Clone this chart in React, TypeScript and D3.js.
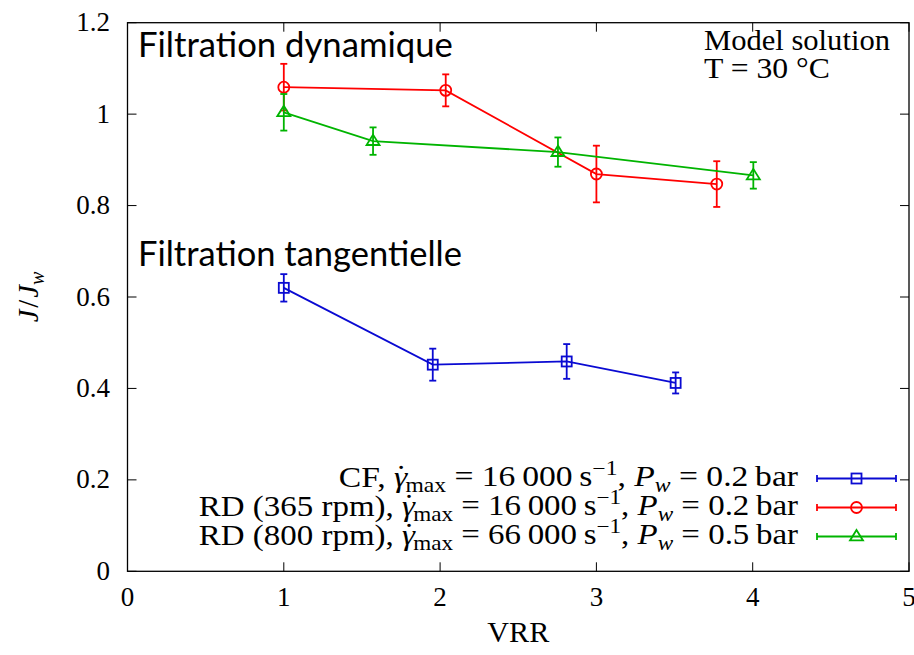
import React, { useLayoutEffect, useRef, useState } from "react";
import * as d3 from "d3";

const xTicks = [0, 1, 2, 3, 4, 5];
const yTicks = [0, 0.2, 0.4, 0.6, 0.8, 1, 1.2];
const yTickLabels = ["0", "0.2", "0.4", "0.6", "0.8", "1", "1.2"];

const cfX = [1, 1.953, 2.81, 3.507];
const cfY = [0.62, 0.452, 0.459, 0.412];
const cfErr = [0.03, 0.035, 0.038, 0.023];

const rd365X = [1, 2.036, 3.0, 3.77];
const rd365Y = [1.059, 1.052, 0.869, 0.847];
const rd365Err = [0.051, 0.035, 0.062, 0.05];

const rd800X = [1, 1.571, 2.754, 4.004];
const rd800Y = [1.004, 0.941, 0.917, 0.866];
const rd800Err = [0.04, 0.03, 0.032, 0.029];

const seriesNames = ["CF", "RD (365 rpm)", "RD (800 rpm)"];
const shearRates = ["16\u2009000", "16\u2009000", "66\u2009000"];
const pressures = ["0.2", "0.2", "0.5"];

const W = 914;
const H = 655;
const L = 127.5, R = 909, T = 22.7, B = 571.3;
const serif = "Liberation Serif";
const sans = "Lato";

type Series = { xs: number[]; ys: number[]; es: number[]; color: string; marker: string };
const series: Series[] = [
  { xs: cfX, ys: cfY, es: cfErr, color: "#0a0ad2", marker: "square" },
  { xs: rd365X, ys: rd365Y, es: rd365Err, color: "#ff0000", marker: "circle" },
  { xs: rd800X, ys: rd800Y, es: rd800Err, color: "#00b400", marker: "triangle" },
];

function Marker({ kind, x, y, color }: { kind: string; x: number; y: number; color: string }) {
  if (kind === "square")
    return <rect x={x - 5} y={y - 5} width={10} height={10} fill="none" stroke={color} strokeWidth={1.8} />;
  if (kind === "circle") return <circle cx={x} cy={y} r={5.5} fill="none" stroke={color} strokeWidth={1.8} />;
  const s = 6.5;
  return (
    <path
      d={`M${x},${y - s}L${x + s},${y + s * 0.6}L${x - s},${y + s * 0.6}Z`}
      fill="none"
      stroke={color}
      strokeWidth={1.8}
    />
  );
}

function FitText({
  x,
  y,
  width,
  anchor = "start",
  size,
  family = serif,
  children,
}: {
  x: number;
  y: number;
  width: number;
  anchor?: string;
  size: number;
  family?: string;
  children: React.ReactNode;
}) {
  const ref = useRef<SVGTextElement>(null);
  const [s, setS] = useState(1);
  useLayoutEffect(() => {
    if (ref.current) {
      const w = ref.current.getBBox().width;
      if (w > 0) setS(width / w);
    }
  }, [width]);
  return (
    <g transform={`translate(${x},${y}) scale(${s},1)`}>
      <text ref={ref} x={0} y={0} textAnchor={anchor} fontSize={size} fill="#000" fontFamily={family}>
        {children}
      </text>
    </g>
  );
}

function GammaDot({ sub }: { sub: number }) {
  return (
    <>
      <tspan fontStyle="italic">{"\u03B3"}</tspan>
      <tspan dx={-10} dy={-1}>{"\u02D9"}</tspan>
      <tspan fontSize={sub} dx={-1} dy={6}>max</tspan>
    </>
  );
}

export default function App() {
  const x = d3.scaleLinear().domain([0, 5]).range([L, R]);
  const y = d3.scaleLinear().domain([0, 1.2]).range([B, T]);
  const line = d3
    .line<[number, number]>()
    .x((d) => x(d[0]))
    .y((d) => y(d[1]));
  const fs = 27;
  const lfs = 28.5;
  const sub = 20;
  const legendRows = [478.5, 507.5, 536.5];
  const legendWidths = [460, 600, 600];

  return (
    <svg
      width={W}
      height={H}
      fontFamily={serif}
      style={{ position: "absolute", left: 0, top: 0, background: "#fff" }}
    >
      <rect x={0} y={0} width={W} height={H} fill="#fff" />
      {/* ticks */}
      {xTicks.map((t) => (
        <g key={"xt" + t}>
          <line x1={x(t)} x2={x(t)} y1={B} y2={B - 9} stroke="#000" strokeWidth={1} />
          <line x1={x(t)} x2={x(t)} y1={T} y2={T + 9} stroke="#000" strokeWidth={1} />
          <text x={x(t)} y={606} textAnchor="middle" fontSize={fs} fill="#000" fontFamily={serif}>
            {t}
          </text>
        </g>
      ))}
      {yTicks.map((t, i) => (
        <g key={"yt" + t}>
          <line x1={L} x2={L + 9} y1={y(t)} y2={y(t)} stroke="#000" strokeWidth={1} />
          <line x1={R} x2={R - 9} y1={y(t)} y2={y(t)} stroke="#000" strokeWidth={1} />
          <text x={110} y={y(t) + 8.5} textAnchor="end" fontSize={fs} fill="#000" fontFamily={serif}>
            {yTickLabels[i]}
          </text>
        </g>
      ))}
      <rect x={L} y={T} width={R - L} height={B - T} fill="none" stroke="#000" strokeWidth={1.3} />

      {/* series */}
      {series.map((s, si) => {
        const pts = s.xs.map((v, i) => [v, s.ys[i]] as [number, number]);
        return (
          <g key={"s" + si}>
            <path d={line(pts) || ""} fill="none" stroke={s.color} strokeWidth={1.8} />
            {pts.map((p, i) => (
              <g key={i}>
                <line x1={x(p[0])} x2={x(p[0])} y1={y(p[1] - s.es[i])} y2={y(p[1] + s.es[i])} stroke={s.color} strokeWidth={1.8} />
                <line x1={x(p[0]) - 3.5} x2={x(p[0]) + 3.5} y1={y(p[1] - s.es[i])} y2={y(p[1] - s.es[i])} stroke={s.color} strokeWidth={1.8} />
                <line x1={x(p[0]) - 3.5} x2={x(p[0]) + 3.5} y1={y(p[1] + s.es[i])} y2={y(p[1] + s.es[i])} stroke={s.color} strokeWidth={1.8} />
                <Marker kind={s.marker} x={x(p[0])} y={y(p[1])} color={s.color} />
              </g>
            ))}
          </g>
        );
      })}

      {/* annotations */}
      <FitText x={138} y={57} width={315} size={34.5} family={sans}>
        Filtration dynamique
      </FitText>
      <FitText x={138} y={266} width={324} size={34.5} family={sans}>
        Filtration tangentielle
      </FitText>
      <FitText x={704} y={50} width={186} size={lfs}>
        Model solution
      </FitText>
      <FitText x={704} y={78} width={126} size={lfs}>
        T = 30 °C
      </FitText>

      {/* legend */}
      {series.map((s, i) => {
        const ly = legendRows[i];
        return (
          <g key={"lg" + i}>
            <FitText x={798} y={ly + 8.5} width={legendWidths[i]} anchor="end" size={lfs}>
              <tspan>{seriesNames[i]}, </tspan>
              <GammaDot sub={sub} />
              <tspan dy={-6}>{" = " + shearRates[i] + "\u2009s"}</tspan>
              <tspan fontSize={sub} dy={-11}>{"\u22121"}</tspan>
              <tspan dy={11}>{", "}</tspan>
              <tspan fontStyle="italic">P</tspan>
              <tspan fontStyle="italic" fontSize={sub} dy={6}>w</tspan>
              <tspan dy={-6}>{" = " + pressures[i] + "\u2009bar"}</tspan>
            </FitText>
            <line x1={817} x2={896} y1={ly} y2={ly} stroke={s.color} strokeWidth={1.8} />
            <line x1={817} x2={817} y1={ly - 3.5} y2={ly + 3.5} stroke={s.color} strokeWidth={1.8} />
            <line x1={896} x2={896} y1={ly - 3.5} y2={ly + 3.5} stroke={s.color} strokeWidth={1.8} />
            <Marker kind={s.marker} x={856.5} y={ly} color={s.color} />
          </g>
        );
      })}

      {/* axis labels */}
      <FitText x={(L + R) / 2} y={642} width={62} anchor="middle" size={lfs}>
        VRR
      </FitText>
      <text
        transform={`translate(38, ${(T + B) / 2}) rotate(-90)`}
        textAnchor="middle"
        fontSize={lfs}
        fill="#000"
        fontFamily={serif}
      >
        <tspan fontStyle="italic">J</tspan>
        <tspan dx={2}>/</tspan>
        <tspan dx={2} fontStyle="italic">J</tspan>
        <tspan fontStyle="italic" fontSize={sub} dy={6}>w</tspan>
      </text>
    </svg>
  );
}
